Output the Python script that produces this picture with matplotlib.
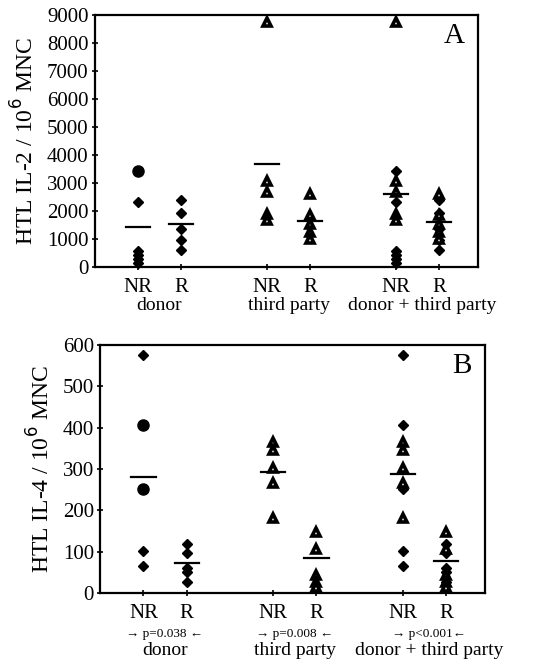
import numpy as np
import matplotlib
matplotlib.use("Agg")
import matplotlib.pyplot as plt

plt.rcParams["font.family"] = ["Liberation Serif", "DejaVu Serif"]

# --- DATA ---
tick_labels = ["NR", "R", "NR", "R", "NR", "R"]
group_labels = ["donor", "third party", "donor + third party"]
p_labels = ["\u2192 p=0.038 \u2190", "\u2192 p=0.008 \u2190", "\u2192 p<0.001\u2190"]

# panel A, HTL IL-2 / 10^6 MNC
il2_donor_nr = [2330, 600, 450, 300, 150]
il2_donor_nr_circle = [3440]
il2_donor_r = [2420, 1940, 1360, 990, 610]
il2_third_nr = [8750, 3100, 2690, 1920, 1680]
il2_third_r = [2630, 1860, 1560, 1260, 1020]
il2_means = [1440, 1540, 3680, 1640, 2630, 1620]

# panel B, HTL IL-4 / 10^6 MNC
il4_donor_nr = [576, 102, 66]
il4_donor_nr_circle = [406, 251]
il4_donor_r = [119, 96, 61, 52, 27]
il4_third_nr = [366, 346, 304, 267, 181]
il4_third_r = [148, 108, 44, 27, 15]
il4_means = [281, 73, 292, 84, 289, 78]

xpos = [1, 2, 4, 5, 7, 8]


def diamonds(ax, x, vals):
    ax.plot([x] * len(vals), vals, ls="none", marker="D", ms=5.5,
            color="black", clip_on=False, zorder=3)


def circles(ax, x, vals):
    ax.plot([x] * len(vals), vals, ls="none", marker="o", ms=8,
            color="black", clip_on=False, zorder=3)


def triangles(ax, x, vals):
    ax.plot([x] * len(vals), vals, ls="none", marker="^", ms=5.2,
            mfc="white", mec="black", mew=2.6, clip_on=False, zorder=3)


def draw_panel(ax, d_nr, d_nr_c, d_r, t_nr, t_r, means, ymax, ystep, ylabel, letter):
    diamonds(ax, xpos[0], d_nr)
    circles(ax, xpos[0], d_nr_c)
    diamonds(ax, xpos[1], d_r)
    triangles(ax, xpos[2], t_nr)
    triangles(ax, xpos[3], t_r)
    # combined column = donor + third party
    diamonds(ax, xpos[4], d_nr + d_nr_c)
    triangles(ax, xpos[4], t_nr)
    diamonds(ax, xpos[5], d_r)
    triangles(ax, xpos[5], t_r)

    for x, m in zip(xpos, means):
        ax.plot([x - 0.28, x + 0.28], [m, m], color="black", lw=1.6, zorder=4)

    ax.set_xlim(0, 8.9)
    ax.set_ylim(0, ymax)
    ax.set_yticks(np.arange(0, ymax + 1, ystep))
    ax.set_xticks(xpos)
    ax.set_xticklabels(tick_labels)
    ax.tick_params(axis="both", direction="inout", length=5, width=1.2,
                   labelsize=15)
    ax.tick_params(axis="x", pad=5)
    ax.tick_params(axis="y", pad=2)
    for s in ax.spines.values():
        s.set_linewidth(1.6)
    ax.set_ylabel(ylabel, fontsize=17, labelpad=6)
    ax.text(0.965, 0.97, letter, transform=ax.transAxes, fontsize=21,
            ha="right", va="top")


fig = plt.figure(figsize=(5.33, 6.65), dpi=100)
axA = fig.add_axes([0.178, 0.598, 0.719, 0.379])
axB = fig.add_axes([0.188, 0.108, 0.722, 0.373])

draw_panel(axA, il2_donor_nr, il2_donor_nr_circle, il2_donor_r,
           il2_third_nr, il2_third_r, il2_means, 9000, 1000,
           "HTL IL-2 / 10$^6$ MNC", "A")
draw_panel(axB, il4_donor_nr, il4_donor_nr_circle, il4_donor_r,
           il4_third_nr, il4_third_r, il4_means, 600, 100,
           "HTL IL-4 / 10$^6$ MNC", "B")

centers = [1.5, 4.5, 7.6]
for c, g in zip(centers, group_labels):
    axA.text(c, -0.151, g, transform=axA.get_xaxis_transform(),
             ha="center", va="center", fontsize=14)
for c, g, p in zip(centers, group_labels, p_labels):
    axB.text(c, -0.163, p, transform=axB.get_xaxis_transform(),
             ha="center", va="center", fontsize=9.5)
    axB.text(c, -0.23, g, transform=axB.get_xaxis_transform(),
             ha="center", va="center", fontsize=14)

fig.savefig("out.png", dpi=100)
